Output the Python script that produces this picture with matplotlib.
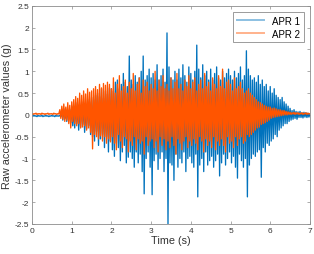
import numpy as np
import matplotlib
matplotlib.use("Agg")
import matplotlib.pyplot as plt

plt.rcParams['font.family'] = ['Liberation Sans', 'DejaVu Sans']
plt.rcParams['axes.unicode_minus'] = False

# raw accelerometer samples (0 - 7 s)
apr1 = [
    -0.02, -0.03, -0.01, -0.03, -0.02, -0.04, -0.01, -0.03, -0.02, -0.03,
    -0.01, -0.04, -0.02, -0.03, -0.01, -0.03, -0.02, -0.04, -0.02, -0.03,
    -0.01, -0.03, -0.02, -0.04, -0.01, -0.03, -0.02, -0.03, -0.01, -0.04,
    0.08, -0.12, 0.14, -0.09, 0.06, -0.15, 0.1, -0.08, 0.12, -0.18,
    0.2, -0.25, 0.15, -0.3, 0.28, -0.2, 0.22, -0.35, 0.18, -0.28,
    0.3, -0.22, 0.25, -0.4, 0.2, -0.32, 0.35, -0.25, 0.3, -0.45,
    0.4, -0.5, 0.35, -0.6, 0.45, -0.38, 0.5, -0.7, 0.42, -0.55,
    0.6, -0.45, 0.38, -0.75, 0.55, -0.5, 0.48, -0.85, 0.62, -0.6,
    0.6, -0.8, 0.55, -0.95, 0.75, -0.65, 0.8, -0.75, 0.6, -1.05,
    0.7, -0.85, 0.95, -0.7, 0.75, -1.1, 0.65, -0.97, 1.35, -0.85,
    0.8, -1.0, 0.7, -1.2, 0.9, -0.85, 0.75, -1.1, 0.85, -0.9,
    1.0, -1.3, 1.35, -1.81, 0.8, -1.0, 0.9, -0.85, 1.05, -1.2,
    0.85, -1.83, 0.95, -1.05, 0.8, -0.9, 1.15, -1.25, 0.8, -1.0,
    0.9, -0.85, 1.05, -1.3, 0.75, -1.0, 1.88, -2.5, 1.1, -1.1,
    0.85, -1.15, 0.8, -1.5, 1.0, -0.9, 0.8, -1.2, 1.05, -1.0,
    0.85, -1.1, 1.15, -0.85, 0.9, -1.3, 0.75, -1.0, 1.1, -0.95,
    0.95, -1.1, 0.8, -1.2, 1.0, -0.9, 1.6, -1.88, 1.05, -1.15,
    0.85, -1.0, 1.15, -1.3, 0.9, -0.85, 1.0, -1.15, 0.8, -1.05,
    1.05, -0.95, 0.8, -1.2, 0.95, -1.05, 1.1, -0.9, 0.85, -1.4,
    0.8, -1.1, 1.0, -0.9, 0.85, -1.15, 0.95, -1.0, 1.05, -0.85,
    0.9, -1.1, 0.8, -0.95, 1.0, -1.2, 0.85, -1.45, 0.95, -0.9,
    1.1, -1.05, 0.8, -1.2, 0.9, -1.0, 1.47, -1.88, 1.05, -1.15,
    0.9, -1.0, 0.8, -0.9, 0.85, -0.95, 0.75, -0.85, 0.9, -0.8,
    0.7, -1.43, 0.8, -0.75, 0.65, -0.85, 0.7, -0.65, 0.55, -0.7,
    0.65, -0.6, 0.5, -0.55, 0.6, -0.45, 0.45, -0.5, 0.4, -0.35,
    0.35, -0.3, 0.4, -0.25, 0.3, -0.2, 0.25, -0.2, 0.2, -0.15,
    0.15, -0.12, 0.1, -0.1, 0.12, -0.08, 0.08, -0.1, 0.07, -0.06,
    0.08, -0.06, 0.05, -0.07, 0.06, -0.05, 0.05, -0.06, 0.04, -0.05, 0.02,
]

apr2 = [
    0.03, 0.01, 0.03, 0.02, 0.04, 0.01, 0.03, 0.02, 0.03, 0.01,
    0.04, 0.02, 0.03, 0.01, 0.03, 0.02, 0.04, 0.01, 0.03, 0.02,
    0.03, 0.01, 0.04, 0.02, 0.03, 0.01, 0.03, 0.02,
    0.12, -0.08, 0.2, -0.1, 0.25, -0.15, 0.18, -0.12, 0.28, -0.2, 0.22, -0.3,
    0.3, -0.15, 0.35, -0.2, 0.42, -0.25, 0.38, -0.2, 0.5, -0.3,
    0.45, -0.28, 0.55, -0.25, 0.48, -0.35, 0.6, -0.3, 0.52, -0.4,
    0.55, -0.78, 0.6, -0.45, 0.65, -0.5, 0.58, -0.55, 0.7, -0.48,
    0.62, -0.6, 0.72, -0.5, 0.68, -0.65, 0.75, -0.55, 0.7, -0.62,
    0.6, -0.5, 0.85, -0.65, 0.5, -0.8, 0.7, -0.45, 0.9, -0.6,
    0.55, -0.75, 0.65, -0.5, 0.8, -0.55, 0.5, -0.85, 0.75, -0.6,
    0.6, -0.7, 0.95, -0.5, 0.55, -0.8, 0.7, -0.55, 0.85, -0.65,
    0.5, -0.6, 0.8, -0.9, 0.65, -0.5, 0.75, -0.7, 0.55, -0.6,
    0.7, -0.55, 0.6, -0.75, 1.0, -0.6, 0.55, -0.85, 0.8, -0.5,
    0.65, -0.7, 0.9, -0.55, 0.6, -0.8, 0.7, -0.6, 0.55, -0.75,
    0.85, -0.5, 0.6, -0.7, 0.75, -0.9, 0.95, -0.55, 0.6, -0.65,
    0.7, -0.8, 0.55, -0.6, 0.8, -0.5, 0.65, -0.75, 0.9, -0.6,
    0.6, -0.7, 0.75, -0.55, 0.85, -0.65, 0.55, -0.8, 0.7, -0.5,
    0.8, -0.6, 0.6, -0.85, 0.95, -0.55, 0.65, -0.7, 0.75, -0.6,
    0.55, -0.75, 0.85, -0.5, 0.7, -0.8, 0.6, -0.6, 0.9, -0.7,
    0.65, -0.55, 1.05, -0.7, 0.6, -0.85, 0.75, -0.5, 0.8, -0.65,
    0.7, -0.6, 0.55, -0.75, 0.85, -0.5, 0.6, -0.7, 0.65, -0.55,
    0.75, -0.5, 0.6, -0.65, 0.5, -0.6, 0.55, -0.45, 0.6, -0.5,
    0.5, -0.45, 0.45, -0.4, 0.4, -0.35, 0.35, -0.3, 0.3, -0.28,
    0.28, -0.22, 0.25, -0.2, 0.22, -0.18, 0.2, -0.15, 0.18, -0.12,
    0.18, -0.08, 0.15, -0.06, 0.16, -0.05, 0.14, -0.04, 0.12, -0.03,
    0.12, -0.02, 0.1, -0.01, 0.1, 0.0, 0.08, 0.0, 0.07, 0.01,
    0.06, 0.01, 0.05, 0.02, 0.06, 0.01, 0.05, 0.02, 0.05, 0.01,
    0.04, 0.02, 0.05, 0.01, 0.04, 0.02, 0.05, 0.01, 0.04, 0.02, 0.03,
]

t_end = 7.0
t1 = np.linspace(0, t_end, len(apr1))
t2 = np.linspace(0, t_end, len(apr2))

yticks = [-2.5, -2, -1.5, -1, -0.5, 0, 0.5, 1, 1.5, 2, 2.5]
xticks = [0, 1, 2, 3, 4, 5, 6, 7]

fig = plt.figure(figsize=(3.14, 2.55), dpi=100)
ax = fig.add_axes([0.102, 0.118, 0.885, 0.855])

ax.plot(t1, apr1, color='#0072BD', lw=0.95, label='APR 1')
ax.plot(t2, apr2, color='#FF5500', lw=0.95, label='APR 2')

ax.set_xlim(0, 7)
ax.set_ylim(-2.5, 2.5)
ax.set_xticks(xticks)
ax.set_yticks(yticks)
ax.set_yticklabels([f'{v:g}' for v in yticks])

grey = '#333333'
for s in ax.spines.values():
    s.set_color('#8c8c8c')
    s.set_linewidth(0.6)
ax.tick_params(direction='in', top=True, right=True, length=2.5, width=0.5,
               color='#8c8c8c', labelsize=6, labelcolor=grey, pad=2)

ax.set_xlabel('Time (s)', fontsize=7.8, color=grey, labelpad=1)
ax.set_ylabel('Raw accelerometer values (g)', fontsize=7.8, color=grey, labelpad=2)

leg = ax.legend(loc='upper right', fontsize=7, fancybox=False, framealpha=1,
                edgecolor='#8c8c8c', handlelength=2.8, borderpad=0.4,
                labelspacing=0.3, borderaxespad=0.6)
leg.get_frame().set_linewidth(0.6)
for ln in leg.get_lines():
    ln.set_linewidth(1.4)
    ln.set_alpha(0.45)

fig.savefig('out.png', dpi=100)
